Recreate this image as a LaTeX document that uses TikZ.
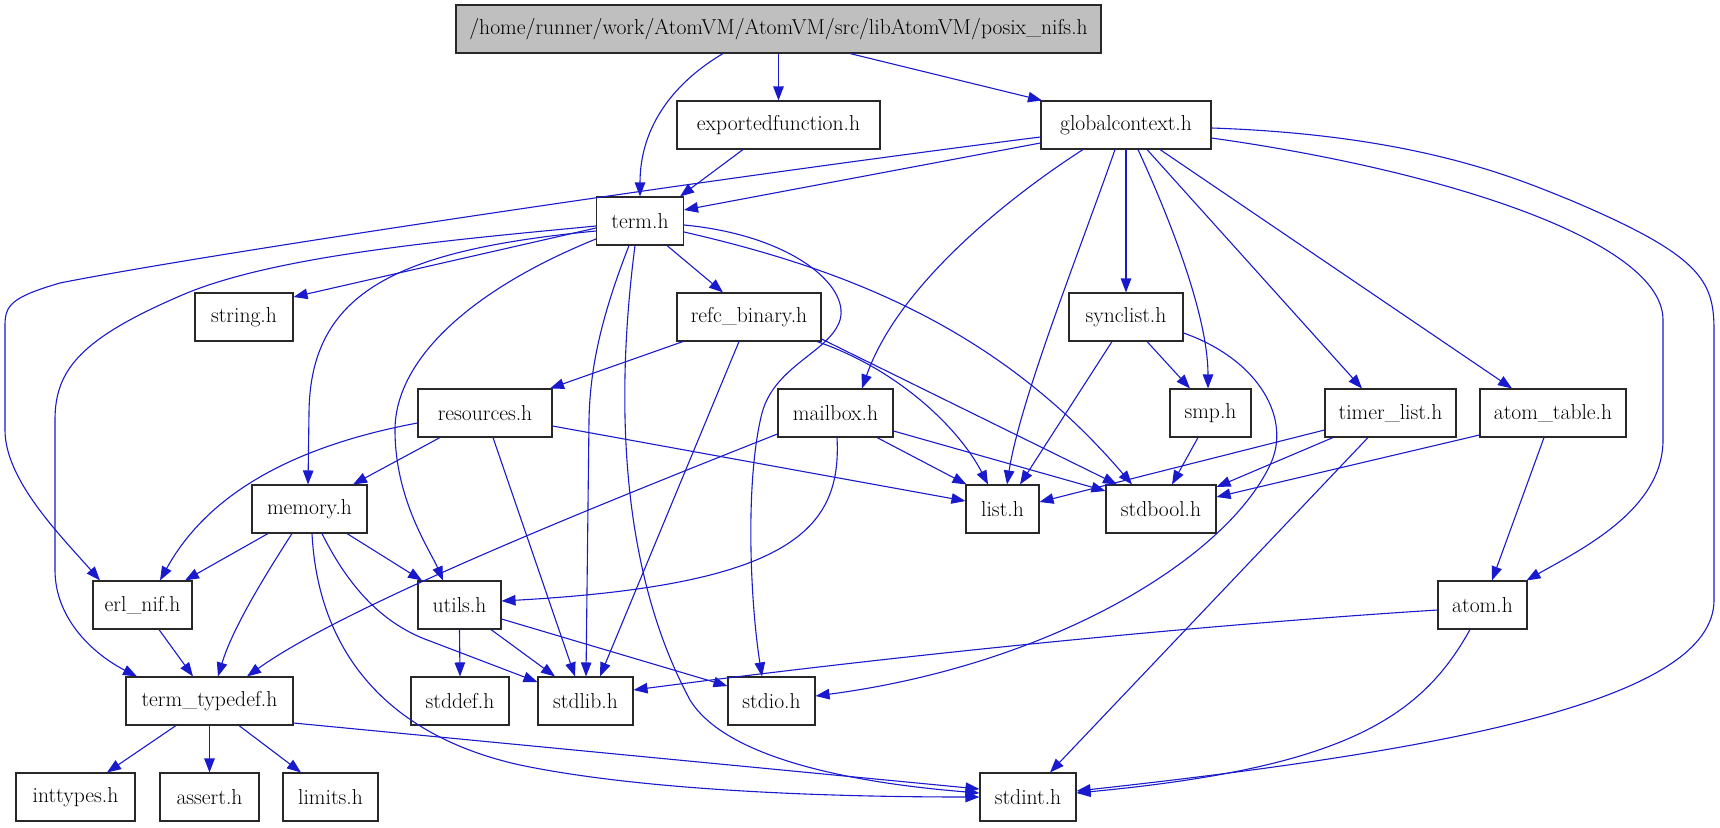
\documentclass[tikz,border=0pt]{standalone}
\usetikzlibrary{arrows.meta}
\definecolor{edgeblue}{RGB}{25,25,205}
\definecolor{rootgray}{RGB}{191,191,191}
\definecolor{boxline}{RGB}{40,40,40}
\begin{document}
\begin{tikzpicture}[x=1pt,y=-1pt,
  box/.style={draw=boxline, line width=1.1pt, fill=white, minimum height=48pt, inner sep=0pt,
    font=\fontsize{21.6}{26}\selectfont},
  e/.style={draw=edgeblue, line width=1.1pt, -{Triangle[length=14pt,width=10.5pt]}, fill=none}]
\useasboundingbox (0,0) rectangle (1720,827);
% nodes
\node[box, fill=rootgray, minimum width=645pt] (root) at (778.5,29) {/home/runner/work/AtomVM/AtomVM/src/libAtomVM/posix\_nifs.h};
\node[box, minimum width=203pt] (exp) at (778.5,125) {exportedfunction.h};
\node[box, minimum width=170pt] (gc) at (1126,125) {globalcontext.h};
\node[box, minimum width=87pt] (term) at (640,221) {term.h};
\node[box, minimum width=98pt] (string) at (244,317) {string.h};
\node[box, minimum width=144pt] (refc) at (749,317) {refc\_binary.h};
\node[box, minimum width=114pt] (sync) at (1126,317) {synclist.h};
\node[box, minimum width=134pt] (res) at (485,413) {resources.h};
\node[box, minimum width=115pt] (mail) at (835.5,413) {mailbox.h};
\node[box, minimum width=81pt] (smp) at (1210.5,413) {smp.h};
\node[box, minimum width=131pt] (timer) at (1390.5,413) {timer\_list.h};
\node[box, minimum width=146pt] (atab) at (1553,413) {atom\_table.h};
\node[box, minimum width=115pt] (mem) at (309.5,509) {memory.h};
\node[box, minimum width=73pt] (list) at (1002.5,509) {list.h};
\node[box, minimum width=110pt] (stdbool) at (1161,509) {stdbool.h};
\node[box, minimum width=99pt] (erl) at (142.5,605) {erl\_nif.h};
\node[box, minimum width=83pt] (utils) at (459.5,605) {utils.h};
\node[box, minimum width=89pt] (atom) at (1482.5,605) {atom.h};
\node[box, minimum width=167pt] (tt) at (209.5,701) {term\_typedef.h};
\node[box, minimum width=98pt] (stddef) at (460,701) {stddef.h};
\node[box, minimum width=95pt] (stdlib) at (585.5,701) {stdlib.h};
\node[box, minimum width=87pt] (stdio) at (771.5,701) {stdio.h};
\node[box, minimum width=119pt] (intt) at (75.5,797) {inttypes.h};
\node[box, minimum width=99pt] (assert) at (209.5,797) {assert.h};
\node[box, minimum width=95pt] (limits) at (330.5,797) {limits.h};
\node[box, minimum width=96pt] (stdint) at (1028,797) {stdint.h};
% edges from root
\draw[e] (root.south) -- (exp.north);
\draw[e] ([xshift=71.5pt]root.south) -- ([xshift=-84pt]gc.north);
\draw[e] ([xshift=-55.5pt]root.south) .. controls (670,85) and (640,130) .. (term.north);
% exportedfunction
\draw[e] ([xshift=-35.5pt]exp.south) -- ([xshift=40pt]term.north);
% globalcontext
\draw[e] ([yshift=-18pt]gc.west) -- ([yshift=11pt]term.east);
\draw[e] ([yshift=-12pt]gc.west) .. controls (700,180) and (200,255) .. (60,283) .. controls (12,297) and (5,305) .. (5,325) -- (5,430) .. controls (5,480) and (60,535) .. ([xshift=-42.5pt]erl.north);
\draw[e] ([xshift=-43pt]gc.south) .. controls (1020,190) and (900,280) .. ([xshift=26.5pt]mail.north);
\draw[e] ([xshift=-11pt]gc.south) .. controls (1080,250) and (1020,400) .. ([xshift=4.5pt]list.north);
\draw[e] (gc.south) -- (sync.north);
\draw[e] ([xshift=12pt]gc.south) .. controls (1175,230) and (1208,320) .. ([xshift=-2.5pt]smp.north);
\draw[e] ([xshift=21pt]gc.south) -- ([xshift=-28.5pt]timer.north);
\draw[e] ([xshift=34pt]gc.south) -- ([xshift=-41pt]atab.north);
\draw[e] ([yshift=-13pt]gc.east) .. controls (1440,170) and (1663,240) .. (1663,320) -- (1663,440) .. controls (1663,510) and (1580,550) .. ([xshift=44pt]atom.north);
\draw[e] ([yshift=-3pt]gc.east) .. controls (1420,135) and (1520,180) .. (1570,200) .. controls (1700,255) and (1714,280) .. (1714,330) -- (1714,600) .. controls (1714,700) and (1450,750) .. ([yshift=6pt]stdint.east);
% term.h
\draw[e] ([yshift=-7pt]term.west) -- ([yshift=20pt]string.east);
\draw[e] ([yshift=-5pt]term.west) .. controls (450,240) and (280,255) .. (187,293) .. controls (80,338) and (55,370) .. (55,420) -- (55,570) .. controls (55,620) and (95,655) .. ([xshift=-72.5pt]tt.north);
\draw[e] ([yshift=-10pt]term.west) .. controls (400,250) and (310,290) .. (309,413) -- ([xshift=-1.5pt]mem.north);
\draw[e] ([yshift=-18pt]term.west) .. controls (470,290) and (395,360) .. (395,430) .. controls (395,500) and (430,550) .. ([xshift=-16.5pt]utils.north);
\draw[e] ([xshift=-11pt]term.south) .. controls (600,320) and (590,370) .. (589,420) -- ([xshift=0.5pt]stdlib.north);
\draw[e] ([xshift=-5pt]term.south) .. controls (615,400) and (620,570) .. (690,700) .. controls (730,765) and (880,785) .. ([yshift=4pt]stdint.west);
\draw[e] ([yshift=-4pt]term.east) .. controls (790,235) and (850,285) .. (840,320) .. controls (830,352) and (775,365) .. (762,413) .. controls (745,480) and (750,600) .. ([xshift=-9.5pt]stdio.north);
\draw[e] ([yshift=-11pt]term.east) .. controls (850,270) and (1000,330) .. ([xshift=-29pt]stdbool.north);
\draw[e] ([xshift=27pt]term.south) -- ([xshift=-26pt]refc.north);
% refc_binary.h
\draw[e] ([xshift=-66pt]refc.south) -- ([xshift=65pt]res.north);
\draw[e] ([xshift=-10pt]refc.south) -- ([xshift=14.5pt]stdlib.north);
\draw[e] ([xshift=68pt]refc.south) .. controls (900,370) and (960,430) .. ([xshift=-14.5pt]list.north);
\draw[e] ([yshift=-22pt]refc.east) -- ([xshift=-44pt]stdbool.north);
% resources.h
\draw[e] ([xshift=-45pt]res.south) -- ([xshift=43.5pt]mem.north);
\draw[e] ([yshift=-10pt]res.west) .. controls (300,445) and (210,490) .. ([xshift=17.5pt]erl.north);
\draw[e] ([xshift=8pt]res.south) -- ([xshift=-10.5pt]stdlib.north);
\draw[e] ([yshift=-13pt]res.east) -- ([yshift=8pt]list.west);
% mailbox.h
\draw[e] ([yshift=-21pt]mail.west) .. controls (560,520) and (340,610) .. ([xshift=37.5pt]tt.north);
\draw[e] ([xshift=1.5pt]mail.south) .. controls (842,530) and (790,585) .. ([yshift=4pt]utils.east);
\draw[e] ([xshift=41.5pt]mail.south) -- ([xshift=-36pt]list.north);
\draw[e] ([yshift=-18pt]mail.east) -- ([yshift=18pt]stdbool.west);
% synclist.h
\draw[e] ([xshift=-14pt]sync.south) -- ([xshift=17.5pt]list.north);
\draw[e] ([xshift=21pt]sync.south) -- ([xshift=-20.5pt]smp.north);
\draw[e] ([yshift=-16pt]sync.east) .. controls (1260,360) and (1292,420) .. (1270,465) .. controls (1225,560) and (1050,665) .. ([yshift=5pt]stdio.east);
% smp.h
\draw[e] ([xshift=-12.5pt]smp.south) -- ([xshift=11pt]stdbool.north);
% timer_list.h
\draw[e] ([yshift=-17pt]timer.west) -- ([yshift=7pt]list.east);
\draw[e] ([xshift=-57.5pt]timer.south) -- ([yshift=22pt]stdbool.east);
\draw[e] ([xshift=-22.5pt]timer.south) -- ([xshift=22pt]stdint.north);
% atom_table.h
\draw[e] ([yshift=-22pt]atab.west) -- ([yshift=12pt]stdbool.east);
\draw[e] ([xshift=-9pt]atab.south) -- ([xshift=9.5pt]atom.north);
% memory.h
\draw[e] ([xshift=-41.5pt]mem.south) -- ([xshift=42.5pt]erl.north);
\draw[e] ([xshift=-17.5pt]mem.south) .. controls (262,580) and (232,630) .. ([xshift=8.5pt]tt.north);
\draw[e] ([xshift=37.5pt]mem.south) -- ([xshift=-37.5pt]utils.north);
\draw[e] ([xshift=12.5pt]mem.south) .. controls (350,590) and (385,625) .. (430,641) -- ([yshift=19pt]stdlib.west);
\draw[e] ([xshift=2.5pt]mem.south) .. controls (318,650) and (385,735) .. (520,765) .. controls (640,790) and (820,797) .. (stdint.west);
% erl_nif.h
\draw[e] ([xshift=16.5pt]erl.south) -- ([xshift=-16.5pt]tt.north);
% utils.h
\draw[e] (utils.south) -- (stddef.north);
\draw[e] ([xshift=31.5pt]utils.south) -- ([xshift=-30.5pt]stdlib.north);
\draw[e] ([yshift=-14pt]utils.east) -- ([yshift=15pt]stdio.west);
% atom.h
\draw[e] ([yshift=-5pt]atom.west) .. controls (1200,625) and (900,655) .. ([yshift=11pt]stdlib.east);
\draw[e] ([xshift=-12.5pt]atom.south) .. controls (1420,720) and (1340,768) .. ([yshift=4pt]stdint.east);
% term_typedef.h
\draw[e] ([xshift=-33.5pt]tt.south) -- ([xshift=31.5pt]intt.north);
\draw[e] (tt.south) -- (assert.north);
\draw[e] ([xshift=29.5pt]tt.south) -- ([xshift=-29.5pt]limits.north);
\draw[e] ([yshift=-22pt]tt.east) -- ([yshift=8pt]stdint.west);
\end{tikzpicture}
\end{document}
